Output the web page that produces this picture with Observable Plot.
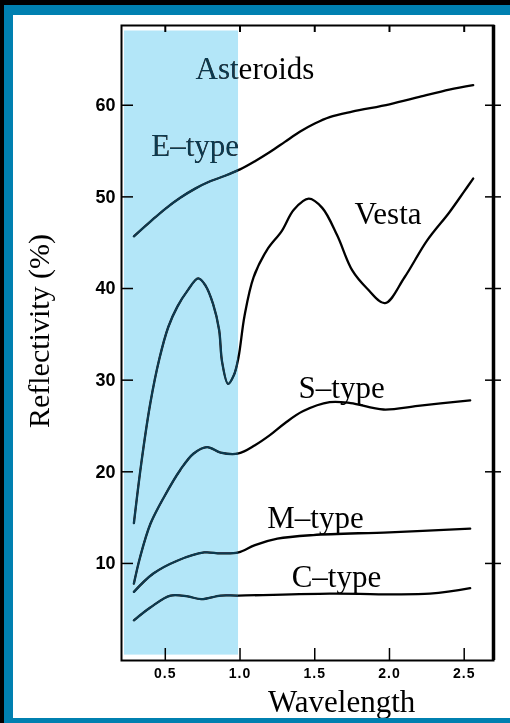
<!DOCTYPE html>
<html>
<head>
<meta charset="utf-8">
<script src="https://cdn.jsdelivr.net/npm/d3@7"></script>
<script src="https://cdn.jsdelivr.net/npm/@observablehq/plot@0.6"></script>
<style>
  html, body { margin: 0; padding: 0; background: #000; }
  #wrap { width: 510px; height: 723px; box-sizing: border-box; background: #0080b0;
          border-top: 5px solid #000; border-left: 4px solid #000; padding: 10px 0 5px 9px; overflow: hidden; }
  #panel { width: 497px; height: 703px; background: #fff; }
  #panel svg { display: block; }
  g[aria-label="x-axis tick label"] text { letter-spacing: 1px; }
</style>
</head>
<body>
<div id="wrap"><div id="panel"></div></div>
<script>
// ---- data ----
const eTypeW = [0.29, 0.4, 0.5, 0.6, 0.7, 0.8, 0.9, 1.0, 1.1, 1.2, 1.3, 1.4, 1.5, 1.6, 1.75, 2.0, 2.2, 2.4, 2.56];
const eTypeR = [45.7, 47.3, 48.7, 49.9, 50.9, 51.7, 52.3, 53.0, 53.9, 54.9, 56.0, 57.1, 58.0, 58.7, 59.3, 60.1, 60.9, 61.7, 62.2];

const vestaW = [0.29, 0.34, 0.40, 0.46, 0.52, 0.58, 0.65, 0.72, 0.77, 0.82, 0.86, 0.88, 0.92, 0.96, 0.99, 1.03, 1.09, 1.18, 1.28, 1.36, 1.46, 1.55, 1.65, 1.75, 1.85, 1.97, 2.1, 2.25, 2.4, 2.5, 2.56];
const vestaR = [14.4, 21.0, 27.5, 32.3, 35.8, 38.0, 39.8, 41.1, 40.3, 38.3, 35.5, 32.0, 29.6, 30.6, 32.5, 37.0, 41.2, 44.2, 46.3, 48.6, 49.8, 48.8, 45.8, 42.0, 40.0, 38.4, 41.2, 45.2, 48.3, 50.6, 52.0];

const sTypeW = [0.29, 0.33, 0.40, 0.49, 0.60, 0.69, 0.78, 0.87, 0.99, 1.1, 1.2, 1.3, 1.42, 1.6, 1.74, 1.96, 2.19, 2.54];
const sTypeR = [7.8, 10.6, 14.3, 17.2, 20.2, 22.0, 22.7, 22.1, 22.0, 22.9, 24.0, 25.3, 26.6, 27.6, 27.5, 26.8, 27.2, 27.8];

const mTypeW = [0.29, 0.42, 0.58, 0.76, 0.87, 0.99, 1.1, 1.25, 1.49, 2.0, 2.54];
const mTypeR = [6.9, 8.9, 10.3, 11.2, 11.1, 11.2, 12.0, 12.7, 13.1, 13.4, 13.8];

const cTypeW = [0.29, 0.4, 0.535, 0.65, 0.74, 0.87, 0.99, 1.6, 2.27, 2.54];
const cTypeR = [3.8, 5.2, 6.5, 6.4, 6.1, 6.5, 6.5, 6.7, 6.7, 7.3];

const labelNames = ["Asteroids", "E\u2013type", "Vesta", "S\u2013type", "M\u2013type", "C\u2013type"];
const labelW = [1.10, 0.70, 1.99, 1.68, 1.505, 1.645];
const labelR = [62.9, 54.5, 47.0, 28.0, 13.9, 7.4];

const wavelengthTicks = [0.5, 1.0, 1.5, 2.0, 2.5];
const reflectTicks = [10, 20, 30, 40, 50, 60];
const xDomain = [0.207, 2.696];
const yDomain = [-0.59, 68.7];
const bandW = [0.227, 0.99];
const bandR = [0, 68.1];

// ---- build tables ----
const series = [
  ["E", eTypeW, eTypeR], ["Vesta", vestaW, vestaR], ["S", sTypeW, sTypeR],
  ["M", mTypeW, mTypeR], ["C", cTypeW, cTypeR]
];
const curves = series.flatMap(([name, W, R]) => W.map((w, i) => ({name, w, r: R[i]})));
const labels = labelNames.map((t, i) => ({t, w: labelW[i], r: labelR[i]}));
const band = [{x1: bandW[0], x2: bandW[1], y1: bandR[0], y2: bandR[1]}];

const W = 497, H = 703, mL = 108, mR = 17, mT = 10, mB = 58;
const frameW = W - mL - mR, frameH = H - mT - mB;
const serif = "Liberation Serif, Times New Roman, serif";
const sans = "Liberation Sans, Arial, sans-serif";

const chart = Plot.plot({
  width: W, height: H,
  marginLeft: mL, marginRight: mR, marginTop: mT, marginBottom: mB,
  style: {background: "#fff", fontFamily: serif},
  x: {domain: xDomain},
  y: {domain: yDomain},
  marks: [
    Plot.rect(band, {x1: "x1", x2: "x2", y1: "y1", y2: "y2", fill: "#b3e6f8"}),
    Plot.line(curves, {x: "w", y: "r", z: "name", stroke: "#000", strokeWidth: 2.3, curve: "catmull-rom"}),
    Plot.text(labels, {x: "w", y: "r", text: "t", fontSize: 31, fill: "#000", fontFamily: serif, textAnchor: "middle", lineAnchor: "bottom"}),
    // tint of dark marks inside the highlighted band
    Plot.rect(band, {x1: "x1", x2: "x2", y1: "y1", y2: "y2", fill: "#0b3a4f", mixBlendMode: "lighten"}),
    Plot.frame({stroke: "#000", strokeWidth: 2}),
    Plot.ruleX([xDomain[1]], {stroke: "#000", strokeWidth: 3.5}),
    // inward ticks
    Plot.tickY(reflectTicks, {y: d => d, stroke: "#000", strokeWidth: 1.5, insetRight: frameW - 12}),
    Plot.tickY(reflectTicks, {y: d => d, stroke: "#000", strokeWidth: 1.5, insetLeft: frameW - 8, insetRight: -8}),
    Plot.tickX(wavelengthTicks, {x: d => d, stroke: "#000", strokeWidth: 2, insetBottom: frameH - 7}),
    Plot.tickX(wavelengthTicks, {x: d => d, stroke: "#000", strokeWidth: 1.5, insetTop: frameH - 12}),
    Plot.axisY({ticks: reflectTicks, tickSize: 0, tickPadding: 6, fontSize: 18, fontWeight: "bold", fontFamily: sans, label: null}),
    Plot.axisX({ticks: wavelengthTicks, tickSize: 0, tickPadding: 8, fontSize: 14, fontWeight: "bold", fontFamily: sans, tickFormat: d3.format(".1f"), label: null}),
    Plot.text(["Wavelength"], {x: 1.68, frameAnchor: "bottom", dy: 51, fontSize: 31, fontFamily: serif, textAnchor: "middle", lineAnchor: "bottom"}),
    Plot.text(["Reflectivity (%)"], {frameAnchor: "left", rotate: -90, dx: -82, dy: -12, fontSize: 30, fontFamily: serif, textAnchor: "middle", lineAnchor: "middle"})
  ]
});
document.getElementById("panel").appendChild(chart);
</script>
</body>
</html>
